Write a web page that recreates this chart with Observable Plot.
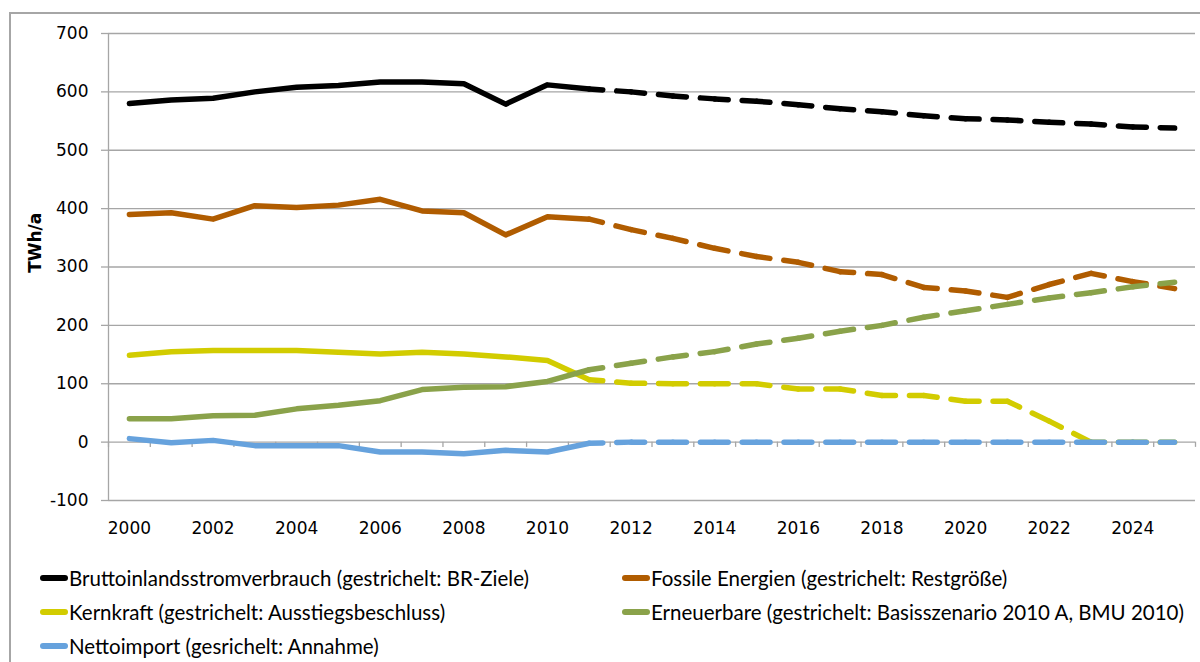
<!DOCTYPE html>
<html>
<head>
<meta charset="utf-8">
<script src="https://cdn.jsdelivr.net/npm/d3@7"></script>
<script src="https://cdn.jsdelivr.net/npm/@observablehq/plot@0.6"></script>
<style>
  html, body { margin: 0; padding: 0; background: #fff; }
  #wrap { position: relative; width: 1200px; height: 662px; overflow: hidden; }
  #frame { position: absolute; left: 9px; top: 12px; width: 1400px; height: 800px;
           border-left: 2px solid #a6a6a6; border-top: 2px solid #a6a6a6; }
  #chart { position: absolute; left: 0; top: 0; }
  #legend { position: absolute; left: 0; top: 560px; width: 1200px; height: 102px;
            font-family: Lato, "Open Sans", sans-serif; font-size: 20.5px; color: #000; }
  .item { position: absolute; display: flex; align-items: center; height: 26px; white-space: nowrap; }
  .sw { width: 28px; height: 6px; border-radius: 3px; margin-right: 1px; }
</style>
</head>
<body>
<div id="wrap">
  <div id="frame"></div>
  <div id="chart"></div>
  <div id="legend"></div>
</div>
<script>
// ---- data ----
const years = [2000,2001,2002,2003,2004,2005,2006,2007,2008,2009,2010,2011,2012,
               2013,2014,2015,2016,2017,2018,2019,2020,2021,2022,2023,2024,2025];
const brutto     = [580,586,589,600,608,611,617,617,614,579,612,605,600,593,588,584,578,571,566,559,554,552,548,545,540,538];
const fossil     = [390,393,382,405,402,406,416,396,393,355,386,382,364,349,332,318,308,292,287,265,259,248,270,289,275,263];
const kern       = [149,155,157,157,157,154,151,154,151,146,140,107,101,100,100,100,91,91,80,80,70,70,36,0,0,0];
const erneuerbar = [40,40,45,46,57,63,71,90,94,95,104,124,135,146,155,168,178,190,200,214,225,236,247,256,266,274];
const netto      = [6,-1,3,-6,-6,-6,-17,-17,-20,-14,-17,-2,0,0,0,0,0,0,0,0,0,0,0,0,0,0];
const lastActual = 2011;

const seriesNames = [
  "Bruttoinlandsstromverbrauch (gestrichelt: BR-Ziele)",
  "Fossile Energien (gestrichelt: Restgröße)",
  "Kernkraft (gestrichelt: Ausstiegsbeschluss)",
  "Erneuerbare (gestrichelt: Basisszenario 2010 A, BMU 2010)",
  "Nettoimport (gesrichelt: Annahme)"
];
const seriesValues = [brutto, fossil, kern, erneuerbar, netto];
const seriesColors = ["#000000", "#b05c00", "#d2cc00", "#8aa24a", "#66a2dd"];
const yTicks = [-100, 0, 100, 200, 300, 400, 500, 600, 700];
const xLabels = [2000, 2002, 2004, 2006, 2008, 2010, 2012, 2014, 2016, 2018, 2020, 2022, 2024];
const yTitle = "TWh/a";

// ---- derived tables ----
const solid = [];
const dashed = [];
seriesNames.forEach((name, s) => {
  const vals = seriesValues[s];
  years.forEach((yr, i) => {
    if (yr <= lastActual) solid.push({series: name, year: yr, value: vals[i]});
    if (yr >= lastActual && i < years.length - 1)
      dashed.push({series: name, x1: yr, y1: vals[i], x2: years[i + 1], y2: vals[i + 1]});
  });
});
const bounds = years.map(y => y - 0.5).concat([years[years.length - 1] + 0.5]);
const gray = "#a6a6a6";
const tickFont = "DejaVu Sans, sans-serif";

const plot = Plot.plot({
  width: 1200,
  height: 560,
  marginLeft: 108,
  marginRight: 5,
  marginTop: 33,
  marginBottom: 60,
  style: {fontFamily: tickFont, fontSize: "17px", background: "transparent", overflow: "visible"},
  x: {domain: [years[0] - 0.5, years[years.length - 1] + 0.5]},
  y: {domain: [-100, 700]},
  color: {domain: seriesNames, range: seriesColors},
  marks: [
    Plot.gridY(yTicks, {stroke: gray, strokeOpacity: 1, strokeWidth: 1.3}),
    Plot.ruleX([bounds[0]], {y1: -100, y2: 700, stroke: gray, strokeWidth: 1.3}),
    Plot.ruleX(bounds, {y1: 0, y2: -9, stroke: gray, strokeWidth: 1.3}),
    Plot.axisY(yTicks, {tickSize: 7, tickPadding: 13, stroke: gray, strokeWidth: 1.3, fill: "#000",
      fontSize: 17, tickFormat: d => String(d), label: null}),
    Plot.axisX(xLabels, {tickSize: 0, tickPadding: 21, fill: "#000", fontSize: 17, tickFormat: d => String(d), label: null}),
    Plot.text([yTitle], {text: d => d, frameAnchor: "left", y: () => 290, dx: -73, rotate: -90,
      fontWeight: "bold", fontSize: 17, fill: "#000"}),
    Plot.line(solid, {x: "year", y: "value", z: "series", stroke: "series",
      strokeWidth: 5.5, strokeLinejoin: "round", strokeLinecap: "round"}),
    Plot.link(dashed, {x1: "x1", y1: "y1", x2: "x2", y2: "y2", stroke: "series",
      strokeWidth: 5.5, strokeLinecap: "round", strokeDasharray: "27,14", strokeDashoffset: 13.5})
  ]
});
document.getElementById("chart").appendChild(plot);

// ---- legend (HTML, below the SVG) ----
const legend = document.getElementById("legend");
const legendPos = [[40, 5], [622, 5], [40, 39], [622, 39], [40, 73]];
seriesNames.forEach((name, i) => {
  const it = document.createElement("div");
  it.className = "item";
  it.style.left = legendPos[i][0] + "px";
  it.style.top = legendPos[i][1] + "px";
  const sw = document.createElement("span");
  sw.className = "sw";
  sw.style.background = seriesColors[i];
  const tx = document.createElement("span");
  tx.textContent = name;
  it.appendChild(sw);
  it.appendChild(tx);
  legend.appendChild(it);
});
</script>
</body>
</html>
